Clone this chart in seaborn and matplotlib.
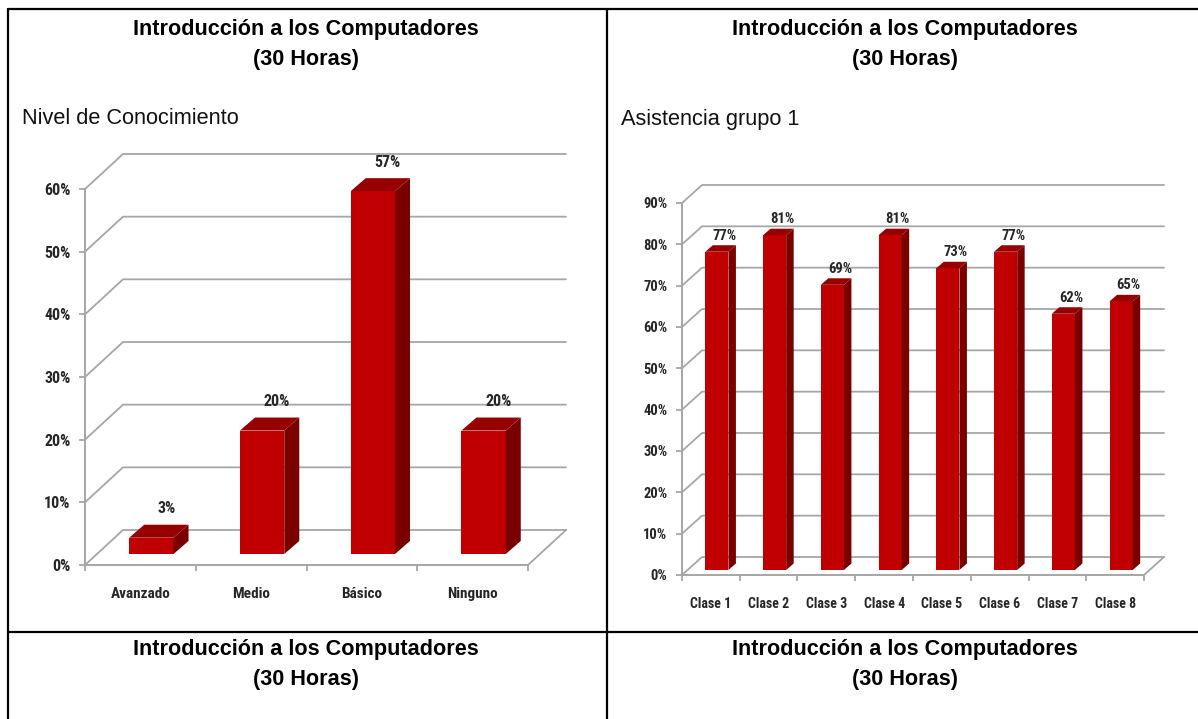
import logging
import matplotlib
matplotlib.use("Agg")
import matplotlib.pyplot as plt
import pandas as pd
import seaborn as sns

logging.getLogger("matplotlib.font_manager").setLevel(logging.ERROR)

# -------------------- DATA --------------------
titulo = "Introducción a los Computadores\n(30 Horas)"

niveles = ["Avanzado", "Medio", "Básico", "Ninguno"]
nivel_pct = [2.6, 19.7, 57.9, 19.7]   # height of the bars as drawn
nivel_etiquetas = ["3%", "20%", "57%", "20%"]
nivel_ticks = [0, 10, 20, 30, 40, 50, 60]

clases = ["Clase 1", "Clase 2", "Clase 3", "Clase 4", "Clase 5", "Clase 6", "Clase 7", "Clase 8"]
asistencia_pct = [77, 81, 69, 81, 73, 77, 62, 65]
asistencia_ticks = [0, 10, 20, 30, 40, 50, 60, 70, 80, 90]

W, H = 1198, 719
ROJO, ROJO_LADO, ROJO_TOPE = "#C00000", "#7A0000", "#960000"
GRIS = "#A6A6A6"
NARROW = ["Roboto Condensed", "Archivo Narrow", "Liberation Sans", "DejaVu Sans"]

sns.set_style("white")
plt.rcParams["font.family"] = ["Liberation Sans", "DejaVu Sans"]

fig = plt.figure(figsize=(W / 100, H / 100), dpi=100)


def chart(left, right, top, bottom, cats, vals, etiquetas, ticks, depth, bar_depth, lift, label_gap, fs):
    ax = fig.add_axes([left / W, 1 - bottom / H, (right - left) / W, (bottom - top) / H])
    df = pd.DataFrame({"cat": cats, "val": vals})
    sns.barplot(data=df, x="cat", y="val", color=ROJO, width=0.4, saturation=1, linewidth=0, ax=ax, zorder=3)
    ax.set_xlim(-0.5, len(cats) - 0.5)
    ax.set_ylim(0, ticks[-1])
    ax.set_xlabel("")
    ax.set_ylabel("")

    # pixel sizes to data units
    px_x = (len(cats)) / (right - left)
    px_y = ticks[-1] / (bottom - top)
    dx, dy = depth[0] * px_x, depth[1] * px_y
    bx, by = bar_depth[0] * px_x, bar_depth[1] * px_y
    sx, sy = lift[0] * px_x, lift[1] * px_y

    # back wall gridlines and floor
    x0, x1 = -0.5, len(cats) - 0.5
    for t in ticks:
        ax.plot([x0, x0 + dx, x1 + dx], [t, t + dy, t + dy], color=GRIS, lw=1.3, clip_on=False, zorder=1)
    ax.plot([x1, x1 + dx], [0, dy], color=GRIS, lw=1.3, clip_on=False, zorder=1)

    # 3d faces come from the bars seaborn drew
    for bar, txt in zip(ax.patches, etiquetas):
        bar.set_x(bar.get_x() + sx)
        bar.set_y(sy)
        bar.set_clip_on(False)
        a, b = bar.get_x(), bar.get_x() + bar.get_width()
        y0, y1 = sy, sy + bar.get_height()
        ax.fill([b, b + bx, b + bx, b], [y0, y0 + by, y1 + by, y1], color=ROJO_LADO, lw=0, clip_on=False, zorder=3)
        ax.fill([a, a + bx, b + bx, b], [y1, y1 + by, y1 + by, y1], color=ROJO_TOPE, lw=0, clip_on=False, zorder=3)
        ax.annotate(txt, ((a + b) / 2 + bx, y1 + by), xytext=(0, label_gap), textcoords="offset points",
                    ha="center", va="center", family=NARROW, fontweight="bold", fontsize=fs + 0.5,
                    color="#262626", zorder=5, annotation_clip=False)

    # axis
    sns.despine(ax=ax, top=True, right=True)
    for s in ["left", "bottom"]:
        ax.spines[s].set_color(GRIS)
        ax.spines[s].set_linewidth(1.4)
    ax.set_yticks(ticks)
    ax.set_yticklabels([f"{t}%" for t in ticks], family=NARROW, fontweight="bold", fontsize=fs + 0.5, color="#262626")
    ax.set_xticks(range(len(cats)))
    ax.set_xticklabels(cats, family=NARROW, fontweight="bold", fontsize=fs, color="#262626")
    ax.set_xticks([x0 + i for i in range(len(cats) + 1)], minor=True)
    ax.tick_params(axis="y", left=True, length=4, width=1.3, color=GRIS, pad=6.5)
    ax.tick_params(axis="x", which="major", bottom=False, pad=12)
    ax.tick_params(axis="x", which="minor", bottom=True, length=4, width=1.3, color=GRIS)
    ax.patch.set_alpha(0)
    return ax


chart(85, 528, 189, 565, niveles, nivel_pct, nivel_etiquetas, nivel_ticks,
      (38, 35), (15, 13), (11, 11), 11.5, 11)
chart(682, 1144, 203, 575, clases, asistencia_pct, [f"{v}%" for v in asistencia_pct], asistencia_ticks,
      (20, 18), (7.5, 6.5), (6, 5), 7, 10)

# table frame and headings
tabla = fig.add_axes([0, 0, 1, 1], zorder=-1)
tabla.set_xlim(0, W)
tabla.set_ylim(H, 0)
tabla.axis("off")
tabla.plot([8, W], [9, 9], color="black", lw=1.6)
tabla.plot([8, W], [632, 632], color="black", lw=1.6)
tabla.plot([8, 8], [9, H], color="black", lw=1.6)
tabla.plot([607, 607], [9, H], color="black", lw=1.6)

for cx in [306, 905]:
    tabla.text(cx, 44.5, titulo, ha="center", va="center", fontsize=15.6, fontweight="bold", color="black", linespacing=1.55)
    tabla.text(cx, 664.5, titulo, ha="center", va="center", fontsize=15.6, fontweight="bold", color="black", linespacing=1.55)
tabla.text(22, 119, "Nivel de Conocimiento", ha="left", va="center", fontsize=15.7, color="#111111")
tabla.text(621, 119, "Asistencia grupo 1", ha="left", va="center", fontsize=15.7, color="#111111")

fig.savefig("out.png", dpi=100)
